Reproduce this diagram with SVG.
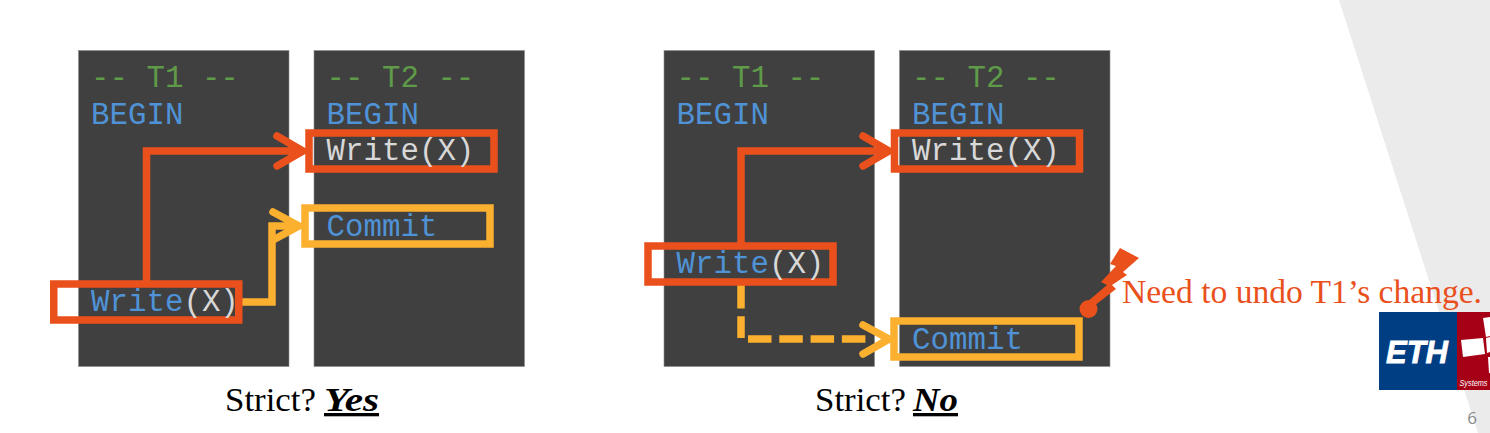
<svg xmlns="http://www.w3.org/2000/svg" width="1490" height="433" viewBox="0 0 1490 433">
<defs><style>
.panel{fill:#404040;stroke:#8c8c8c;stroke-width:.6}
.code{font-family:"Liberation Mono",monospace;font-size:30.8px}
.green{fill:#5f9a48}.blue{fill:#4f92d6}.lt{fill:#d8d8d8}
.box{fill:none;stroke-width:7.5}
.red{stroke:#e9501b}.amber{stroke:#fbb02f}
.line{fill:none;stroke-width:7.5}
.head{fill:none;stroke-width:7.5;stroke-linecap:round;stroke-linejoin:miter}
.cap{font-family:"Liberation Serif",serif;font-size:33px;fill:#000}
.capb{font-weight:bold;font-style:italic;text-decoration:underline}
</style></defs>
<rect width="1490" height="433" fill="#fff"/>
<polygon id="bg-shape" points="1339,0 1490,0 1490,433 1478,433" fill="#ebebeb"/>
<g id="t1-left"><rect class="panel" x="78.500" y="50.500" width="210.500" height="316"/>
<text class="code green" x="91" y="86.500">-- T1 --</text><text class="code blue" x="91" y="123.500">BEGIN</text></g>
<g id="t2-left"><rect class="panel" x="314" y="50.500" width="210.500" height="316"/>
<text class="code green" x="326.500" y="86.500">-- T2 --</text><text class="code blue" x="326.500" y="123.500">BEGIN</text></g>
<g id="t1-right"><rect class="panel" x="664" y="50.500" width="210.500" height="316"/>
<text class="code green" x="676.500" y="86.500">-- T1 --</text><text class="code blue" x="676.500" y="123.500">BEGIN</text></g>
<g id="t2-right"><rect class="panel" x="899.500" y="50.500" width="210.500" height="316"/>
<text class="code green" x="912" y="86.500">-- T2 --</text><text class="code blue" x="912" y="123.500">BEGIN</text></g>
<g id="connectors">
<path class="line red" d="M146.500 282V151H303"/><path class="head red" d="M277 136L303 151L277 166"/>
<path class="line amber" d="M239 302H272V226H300"/><path class="head amber" d="M273 212L299 226L273 240"/>
<path class="line red" d="M741 243V151H889"/><path class="head red" d="M863 136L889 151L863 166"/>
<path class="line amber" d="M741 285V338" stroke-dasharray="23.500 7.800"/><path class="line amber" d="M748 339H866" stroke-dasharray="23.500 7.800"/><path class="head amber" d="M863 325L889 339L863 354"/>
</g>
<g id="write-t2-left"><rect x="309" y="133" width="185" height="36" class="box red"/><text class="code lt" x="326.500" y="159.500">Write(X)</text></g>
<g id="commit-t2-left"><rect x="305" y="208" width="185" height="36" class="box amber"/><text class="code blue" x="326.500" y="235.500">Commit</text></g>
<g id="write-t1-left"><rect x="53.750" y="284" width="185" height="36" class="box red"/><text class="code" x="91" y="310.500"><tspan class="blue">Write</tspan><tspan class="lt">(X)</tspan></text></g>
<g id="write-t2-right"><rect x="894.500" y="133" width="185" height="36" class="box red"/><text class="code lt" x="912" y="159.500">Write(X)</text></g>
<g id="write-t1-right"><rect x="648" y="246" width="185" height="36" class="box red"/><text class="code" x="676.500" y="272.500"><tspan class="blue">Write</tspan><tspan class="lt">(X)</tspan></text></g>
<g id="commit-t2-right"><rect x="894" y="321" width="185" height="36" class="box amber"/><text class="code blue" x="912" y="348.500">Commit</text></g>
<g id="callout"><circle cx="1088.500" cy="309" r="9" fill="#e9501b"/><polygon points="1120,248 1139,258 1123,272 1127,275 1112,285 1116,289 1094,306 1087,302 1107,285 1101,282 1116,266 1110,264" fill="#e9501b"/>
<text x="1122" y="303" font-family="'Liberation Serif',serif" font-size="33px" fill="#e9501b" textLength="360" lengthAdjust="spacingAndGlyphs">Need to undo T1’s change.</text></g>
<g id="caption-left"><text class="cap" x="225" y="411" textLength="91" lengthAdjust="spacingAndGlyphs">Strict?</text><text class="cap capb" x="324" y="411" textLength="55" lengthAdjust="spacingAndGlyphs">Yes</text></g>
<g id="caption-right"><text class="cap" x="815" y="411" textLength="91" lengthAdjust="spacingAndGlyphs">Strict?</text><text class="cap capb" x="913" y="411" textLength="45" lengthAdjust="spacingAndGlyphs">No</text></g>
<g id="logo"><rect x="1379" y="312" width="78" height="78" fill="#003e84"/><rect x="1457" y="312" width="33" height="78" fill="#a50016"/>
<text x="1386" y="363" font-family="'Liberation Sans',sans-serif" font-weight="bold" font-style="italic" font-size="32px" fill="#fff" stroke="#fff" stroke-width=".8" textLength="62" lengthAdjust="spacingAndGlyphs">ETH</text>
<polygon points="1461,340 1483,338 1485,354 1463,357" fill="#fff"/><polygon points="1483,318 1490,317 1490,336 1486,337" fill="#fff"/><polygon points="1486,338 1490,337 1490,352 1487,353" fill="#fff"/><polygon points="1488,357 1490,357 1490,373 1489,373" fill="#fff"/>
<text x="1459.500" y="386" font-family="'Liberation Sans',sans-serif" font-style="italic" font-size="9.500px" fill="#fff" textLength="28" lengthAdjust="spacingAndGlyphs">Systems</text></g>
<text x="1472" y="424" font-family="'Open Sans',sans-serif" font-size="17px" fill="#8a8a8a" text-anchor="middle">6</text>
</svg>
